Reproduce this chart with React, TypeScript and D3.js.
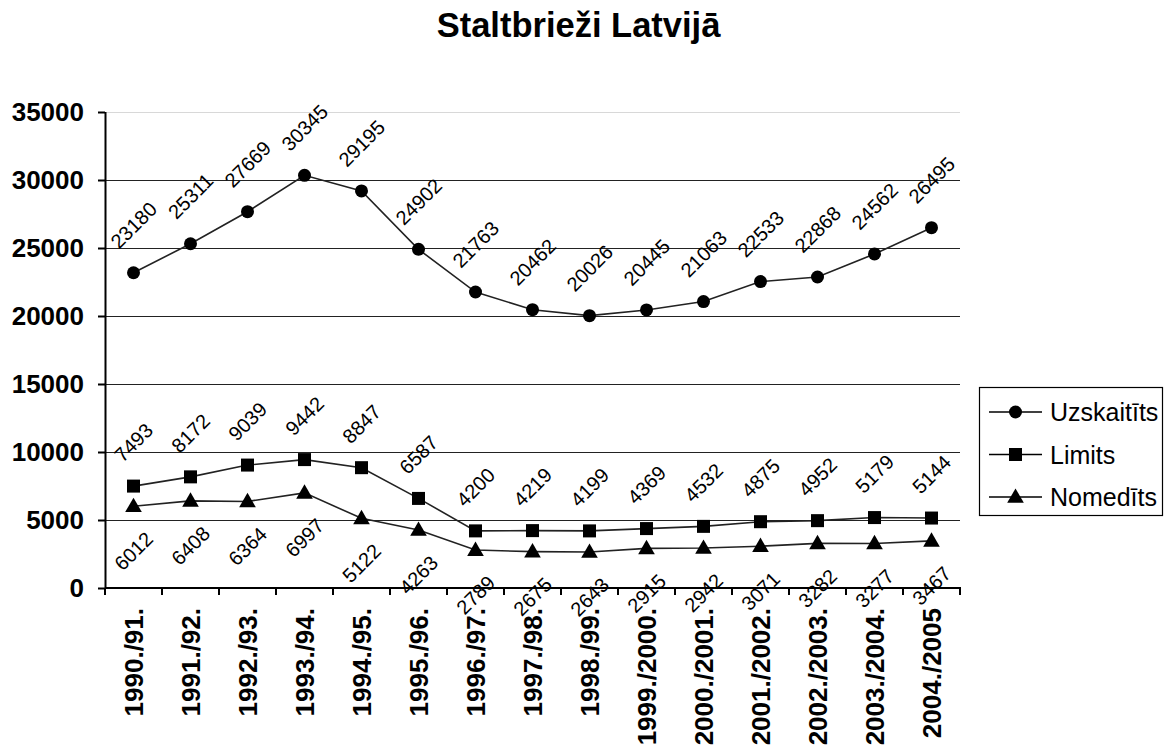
import React from "react";
import * as d3 from "d3";

const categories = [
  "1990./91.", "1991./92.", "1992./93.", "1993./94.", "1994./95.",
  "1995./96.", "1996./97.", "1997./98.", "1998./99.", "1999./2000.",
  "2000./2001.", "2001./2002.", "2002./2003.", "2003./2004.", "2004./2005",
];
const uzskaititsValues = [23180, 25311, 27669, 30345, 29195, 24902, 21763, 20462, 20026, 20445, 21063, 22533, 22868, 24562, 26495];
const limitsValues = [7493, 8172, 9039, 9442, 8847, 6587, 4200, 4219, 4199, 4369, 4532, 4875, 4952, 5179, 5144];
const nomeditsValues = [6012, 6408, 6364, 6997, 5122, 4263, 2789, 2675, 2643, 2915, 2942, 3071, 3282, 3277, 3467];
const yTicks = [0, 5000, 10000, 15000, 20000, 25000, 30000, 35000];
const seriesNames = ["Uzskaitīts", "Limits", "Nomedīts"];
const title = "Staltbrieži Latvijā";

const FONT = "'Liberation Sans', Arial, Helvetica, sans-serif";
const W = 1168, H = 755;
const left = 105, right = 960, top = 112, bottom = 588;

type Shape = "circle" | "square" | "triangle";

function Marker({ x, y, shape }: { x: number; y: number; shape: Shape }) {
  if (shape === "circle") return <circle cx={x} cy={y} r={6.5} fill="#000" />;
  if (shape === "square") return <rect x={x - 6.5} y={y - 6.5} width={13} height={13} fill="#000" />;
  const s = d3.symbol(d3.symbolTriangle, 120)();
  return <path d={s || ""} transform={`translate(${x},${y + 1})`} fill="#000" />;
}

export default function App() {
  const x = d3.scaleBand<string>().domain(categories).range([left, right]);
  const y = d3.scaleLinear().domain([0, 35000]).range([bottom, top]);
  const cx = (c: string) => (x(c) || 0) + x.bandwidth() / 2;
  const line = d3.line<number>().x((_, i) => cx(categories[i])).y((v) => y(v));

  const series: { name: string; values: number[]; shape: Shape; pos: "above" | "below" }[] = [
    { name: seriesNames[0], values: uzskaititsValues, shape: "circle", pos: "above" },
    { name: seriesNames[1], values: limitsValues, shape: "square", pos: "above" },
    { name: seriesNames[2], values: nomeditsValues, shape: "triangle", pos: "below" },
  ];

  const lfs = 20;
  const labelOffset = (txt: string, pos: string) => {
    const w = txt.length * 0.556 * lfs;
    const half = ((w + 0.716 * lfs) * 0.7071) / 2;
    return pos === "above" ? -(half + 23) : half + 24;
  };

  const boundaries = [...categories.map((c) => x(c) || 0), right];

  return (
    <svg width={W} height={H} style={{ position: "absolute", left: 0, top: 0, background: "#fff" }} fontFamily={FONT}>
      <rect x={0} y={0} width={W} height={H} fill="#fff" />
      <text x={578.5} y={37} textAnchor="middle" fontWeight="bold" fontSize={34.5}>{title}</text>

      {/* gridlines */}
      {yTicks.filter((t) => t > 0).map((t) => (
        <line key={t} x1={left} x2={right} y1={Math.round(y(t)) + 0.5} y2={Math.round(y(t)) + 0.5}
          stroke={t === 35000 ? "#d8d8d8" : "#222"} strokeWidth={1} />
      ))}

      {/* y axis */}
      <line x1={left + 0.5} x2={left + 0.5} y1={top} y2={bottom} stroke="#000" strokeWidth={2} />
      {yTicks.map((t) => (
        <g key={t}>
          <line x1={left - 7} x2={left} y1={Math.round(y(t)) + 0.5} y2={Math.round(y(t)) + 0.5} stroke="#000" strokeWidth={2} />
          <text x={84} y={y(t)} dy="0.36em" textAnchor="end" fontWeight="bold" fontSize={26}>{t}</text>
        </g>
      ))}

      {/* x axis */}
      <line x1={left} x2={right + 1} y1={bottom} y2={bottom} stroke="#000" strokeWidth={2} />
      {boundaries.map((b, i) => (
        <line key={i} x1={b} x2={b} y1={bottom} y2={bottom + 7} stroke="#000" strokeWidth={2} />
      ))}
      {categories.map((c) => (
        <text key={c} transform={`translate(${cx(c)},${bottom + 20}) rotate(-90)`} dy="0.36em" textAnchor="end"
          fontWeight="bold" fontSize={26}>{c}</text>
      ))}

      {/* series */}
      {series.map((s) => (
        <g key={s.name}>
          <path d={line(s.values) || ""} fill="none" stroke="#222" strokeWidth={1.6} />
          {s.values.map((v, i) => (
            <Marker key={i} x={cx(categories[i])} y={y(v)} shape={s.shape} />
          ))}
          {s.values.map((v, i) => {
            const t = String(v);
            const oy = labelOffset(t, s.pos);
            return (
              <text key={"l" + i} transform={`translate(${cx(categories[i])},${y(v) + oy}) rotate(-45)`}
                dy="0.36em" textAnchor="middle" fontSize={lfs}>{t}</text>
            );
          })}
        </g>
      ))}

      {/* legend */}
      <rect x={979.5} y={387.5} width={183} height={128} fill="#fff" stroke="#000" strokeWidth={1.2} />
      {series.map((s, i) => {
        const ly = 412 + i * 42.5;
        return (
          <g key={s.name}>
            <line x1={989} x2={1042} y1={ly} y2={ly} stroke="#000" strokeWidth={1.6} />
            <Marker x={1015.5} y={ly} shape={s.shape} />
            <text x={1050} y={ly} dy="0.36em" fontSize={25}>{s.name}</text>
          </g>
        );
      })}
    </svg>
  );
}
